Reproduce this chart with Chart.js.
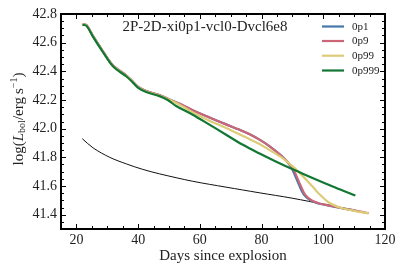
<!DOCTYPE html>
<html>
<head>
<meta charset="utf-8">
<script src="https://cdn.jsdelivr.net/npm/chart.js@4/dist/chart.umd.min.js"></script>
<style>
    html, body { margin: 0; padding: 0; background: #fff; }
    #wrap { width: 407px; height: 271px; }
</style>
</head>
<body>
<div id="wrap"><canvas id="lc" width="407" height="271"></canvas></div>
<script>
// x ticks and y ticks
const xTicks = [20, 40, 60, 80, 100, 120];
const yTicks = [41.4, 41.6, 41.8, 42.0, 42.2, 42.4, 42.6, 42.8];

const seriesNames = ['0p1', '0p9', '0p99', '0p999'];

const days0p1 = [22, 23.3, 25.4, 28.6, 31.9, 36.2, 37.8, 39.9, 42.6, 46.9, 50, 54, 57.7, 63.1, 68.5, 72.7, 76, 79.2, 82.4, 86.7, 89.4, 90.5, 92.1, 93.7, 95.9, 98.5, 100.7, 106.1, 110.4];
const lum0p1 = [42.73, 42.722, 42.646, 42.54, 42.44, 42.371, 42.34, 42.293, 42.263, 42.234, 42.206, 42.168, 42.128, 42.078, 42.03, 41.994, 41.963, 41.925, 41.88, 41.805, 41.738, 41.69, 41.61, 41.54, 41.499, 41.478, 41.468, 41.445, 41.428];

const days0p9 = [22, 23.3, 25.4, 28.6, 31.9, 36.2, 37.8, 39.9, 42.6, 46.9, 50, 54, 57.7, 63.1, 68.5, 72.7, 76, 79.2, 82.4, 86.7, 89.7, 90.9, 92.5, 94.1, 96.3, 98.8, 101, 106.1, 110.4, 114.7];
const lum0p9 = [42.73, 42.722, 42.646, 42.54, 42.44, 42.371, 42.34, 42.293, 42.263, 42.234, 42.206, 42.168, 42.128, 42.078, 42.03, 41.994, 41.963, 41.925, 41.88, 41.805, 41.738, 41.69, 41.61, 41.54, 41.499, 41.478, 41.468, 41.445, 41.428, 41.41];

const days0p99 = [22, 23.3, 25.4, 28.6, 31.9, 36.2, 37.8, 39.9, 42.6, 46.9, 50, 54, 57.7, 63.1, 68.5, 73.8, 76, 79.2, 82.4, 86.7, 89.9, 92.1, 95.3, 97.5, 98.5, 101.8, 106.1, 110.4, 114.7];
const lum0p99 = [42.728, 42.72, 42.644, 42.537, 42.437, 42.368, 42.337, 42.29, 42.26, 42.231, 42.203, 42.16, 42.113, 42.056, 42.005, 41.951, 41.928, 41.895, 41.854, 41.796, 41.74, 41.697, 41.625, 41.572, 41.548, 41.485, 41.445, 41.425, 41.409];

const days0p999 = [22, 23.3, 25.4, 28.6, 31.9, 36.2, 37.8, 39.9, 42.6, 46.9, 49.6, 52.3, 57.7, 63.1, 68.5, 73.8, 79.2, 84.6, 89.9, 95, 100.7, 105.5, 110.4];
const lum0p999 = [42.725, 42.717, 42.64, 42.534, 42.434, 42.364, 42.333, 42.287, 42.256, 42.227, 42.2, 42.158, 42.097, 42.028, 41.958, 41.889, 41.828, 41.771, 41.718, 41.67, 41.618, 41.575, 41.534];

// thin black reference curve
const daysRef = [21.9, 25.4, 30.8, 36.2, 41.5, 46.9, 57.7, 68.5, 79.2, 89.9, 100.7, 110.4];
const lumRef = [41.93, 41.866, 41.80, 41.754, 41.716, 41.685, 41.633, 41.592, 41.553, 41.515, 41.47, 41.43];

const colors = ['#4477AA', '#CC6677', '#DDCC77', '#117733'];
const serif = '"Liberation Serif", "DejaVu Serif", serif';

function pts(xs, ys) {
    return xs.map((x, i) => ({ x: x, y: ys[i] }));
}

const seriesData = [
    pts(days0p1, lum0p1),
    pts(days0p9, lum0p9),
    pts(days0p99, lum0p99),
    pts(days0p999, lum0p999)
];

const datasets = seriesNames.map((name, i) => ({
    label: name,
    data: seriesData[i],
    borderColor: colors[i],
    borderWidth: 2.2,
    pointRadius: 0,
    fill: false,
    tension: 0.35,
    order: 3 - i
}));
datasets.push({
    label: 'ref',
    data: pts(daysRef, lumRef),
    borderColor: '#111',
    borderWidth: 1,
    pointRadius: 0,
    fill: false,
    tension: 0.35,
    order: 5
});

// frame, inward ticks, axis titles, inner title and legend
const decor = {
    id: 'decor',
    afterDraw(chart) {
        const ctx = chart.ctx;
        const a = chart.chartArea;
        const xs = chart.scales.x, ys = chart.scales.y;
        ctx.save();
        ctx.strokeStyle = '#000';

        // ticks
        ctx.lineWidth = 1;
        ctx.beginPath();
        for (let v = 15; v <= 120; v += 5) {
            const px = Math.round(xs.getPixelForValue(v)) + 0.5;
            const len = (v % 20 === 0) ? 5 : 3;
            ctx.moveTo(px, a.bottom); ctx.lineTo(px, a.bottom - len);
            ctx.moveTo(px, a.top); ctx.lineTo(px, a.top + len);
        }
        for (let k = 0; k <= 30; k++) {
            const v = 41.3 + k * 0.05;
            const py = Math.round(ys.getPixelForValue(v)) + 0.5;
            const major = (k + 2) % 4 === 0;
            const len = major ? 5 : 3;
            ctx.moveTo(a.left, py); ctx.lineTo(a.left + len, py);
            ctx.moveTo(a.right, py); ctx.lineTo(a.right - len, py);
        }
        ctx.stroke();

        // frame
        ctx.lineWidth = 2;
        ctx.strokeRect(a.left, a.top, a.right - a.left, a.bottom - a.top);

        ctx.fillStyle = '#222';
        // inner title
        ctx.font = '15px ' + serif;
        ctx.textAlign = 'center';
        ctx.textBaseline = 'middle';
        ctx.fillText('2P-2D-xi0p1-vcl0-Dvcl6e8', 205, 27);

        // x title
        ctx.font = '15px ' + serif;
        ctx.fillText('Days since explosion', (a.left + a.right) / 2, 256);

        // y title with sub/superscript
        const parts = [
            { t: 'log(', f: '15px ' + serif, dy: 0 },
            { t: 'L', f: 'italic 15px ' + serif, dy: 0 },
            { t: 'bol', f: '10px ' + serif, dy: 3 },
            { t: '/erg\u2009s', f: '15px ' + serif, dy: 0 },
            { t: '\u22121', f: '10px ' + serif, dy: -5 },
            { t: ')', f: '15px ' + serif, dy: 0 }
        ];
        let total = 0;
        parts.forEach(p => { ctx.font = p.f; p.w = ctx.measureText(p.t).width; total += p.w; });
        ctx.translate(19, 119);
        ctx.rotate(-Math.PI / 2);
        ctx.textAlign = 'left';
        let cx = -total / 2;
        parts.forEach(p => {
            ctx.font = p.f;
            ctx.fillText(p.t, cx, p.dy);
            cx += p.w;
        });
        ctx.setTransform(1, 0, 0, 1, 0, 0);

        // legend
        const ly = [26.5, 41, 55.7, 70.5];
        ctx.font = '11px ' + serif;
        ctx.textAlign = 'left';
        seriesNames.forEach((name, i) => {
            ctx.strokeStyle = colors[i];
            ctx.lineWidth = 2.2;
            ctx.beginPath();
            ctx.moveTo(322, ly[i]);
            ctx.lineTo(344, ly[i]);
            ctx.stroke();
            ctx.fillStyle = '#222';
            ctx.fillText(name, 352, ly[i] + 0.5);
        });
        ctx.restore();
    }
};

new Chart(document.getElementById('lc'), {
    type: 'line',
    data: { datasets: datasets },
    options: {
        responsive: false,
        animation: false,
        layout: { padding: { top: 14, right: 22, left: 0, bottom: 0 } },
        plugins: { legend: { display: false }, tooltip: { enabled: false } },
        scales: {
            x: {
                type: 'linear',
                min: 15,
                max: 120,
                grid: { display: false, drawTicks: false },
                border: { display: false },
                afterBuildTicks: s => { s.ticks = xTicks.map(v => ({ value: v })); },
                afterFit: s => { s.height = 42; },
                ticks: { padding: 3, color: '#222', font: { family: serif, size: 14 }, maxRotation: 0 }
            },
            y: {
                type: 'linear',
                min: 41.3,
                max: 42.8,
                grid: { display: false, drawTicks: false },
                border: { display: false },
                afterBuildTicks: s => { s.ticks = yTicks.map(v => ({ value: v })); },
                afterFit: s => { s.width = 61; },
                ticks: {
                    padding: 4,
                    color: '#222',
                    font: { family: serif, size: 14 },
                    callback: v => v.toFixed(1)
                }
            }
        }
    },
    plugins: [decor]
});
</script>
</body>
</html>
